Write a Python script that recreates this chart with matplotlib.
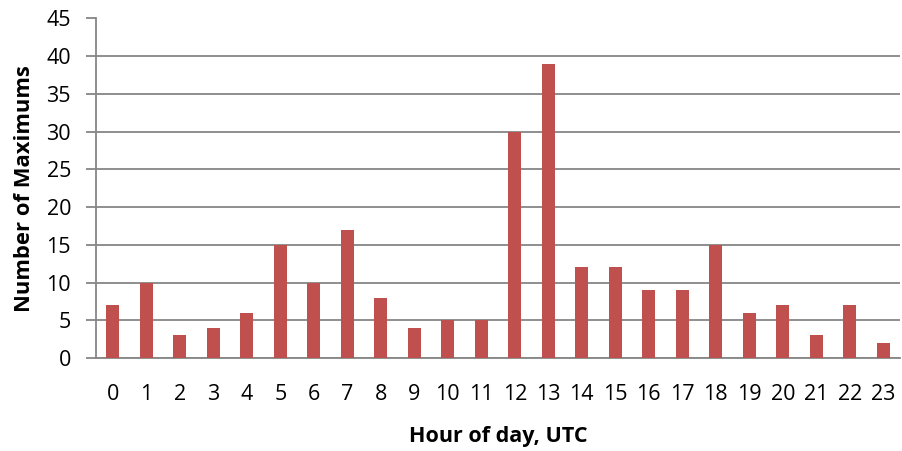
import matplotlib
matplotlib.use("Agg")
import matplotlib.pyplot as plt

hours = list(range(24))
counts = [7, 10, 3, 4, 6, 15, 10, 17, 8, 4, 5, 5, 30, 39, 12, 12, 9, 9, 15, 6, 7, 3, 7, 2]
y_ticks = list(range(0, 46, 5))

plt.rcParams['font.family'] = ['Open Sans', 'DejaVu Sans']

fig = plt.figure(figsize=(9.02, 4.51), dpi=100)
ax = fig.add_axes([96 / 902, 1 - 358 / 451, 804 / 902, (358 - 18.5) / 451])

grid_c = '#868686'
ax.bar(hours, counts, width=0.4, color='#C0504D', zorder=3)
ax.set_xlim(-0.5, 23.5)
ax.set_ylim(0, 45)
ax.set_yticks(y_ticks)
ax.set_xticks(hours)
ax.set_xticklabels([str(h) for h in hours])
ax.yaxis.grid(True, color=grid_c, linewidth=1.3, zorder=0)
ax.set_axisbelow(True)

for s in ['top', 'right']:
    ax.spines[s].set_visible(False)
for s in ['left', 'bottom']:
    ax.spines[s].set_color(grid_c)
    ax.spines[s].set_linewidth(1.3)

ax.tick_params(axis='y', length=7, width=1.3, color=grid_c, labelsize=15.5, pad=11)
ax.tick_params(axis='x', length=0, labelsize=15.5, pad=19)

ax.set_ylabel('Number of Maximums', fontsize=15.8, fontweight='bold', labelpad=8)
ax.set_xlabel('Hour of day, UTC', fontsize=15.5, fontweight='bold', labelpad=15)

fig.savefig('out.png', dpi=100)
